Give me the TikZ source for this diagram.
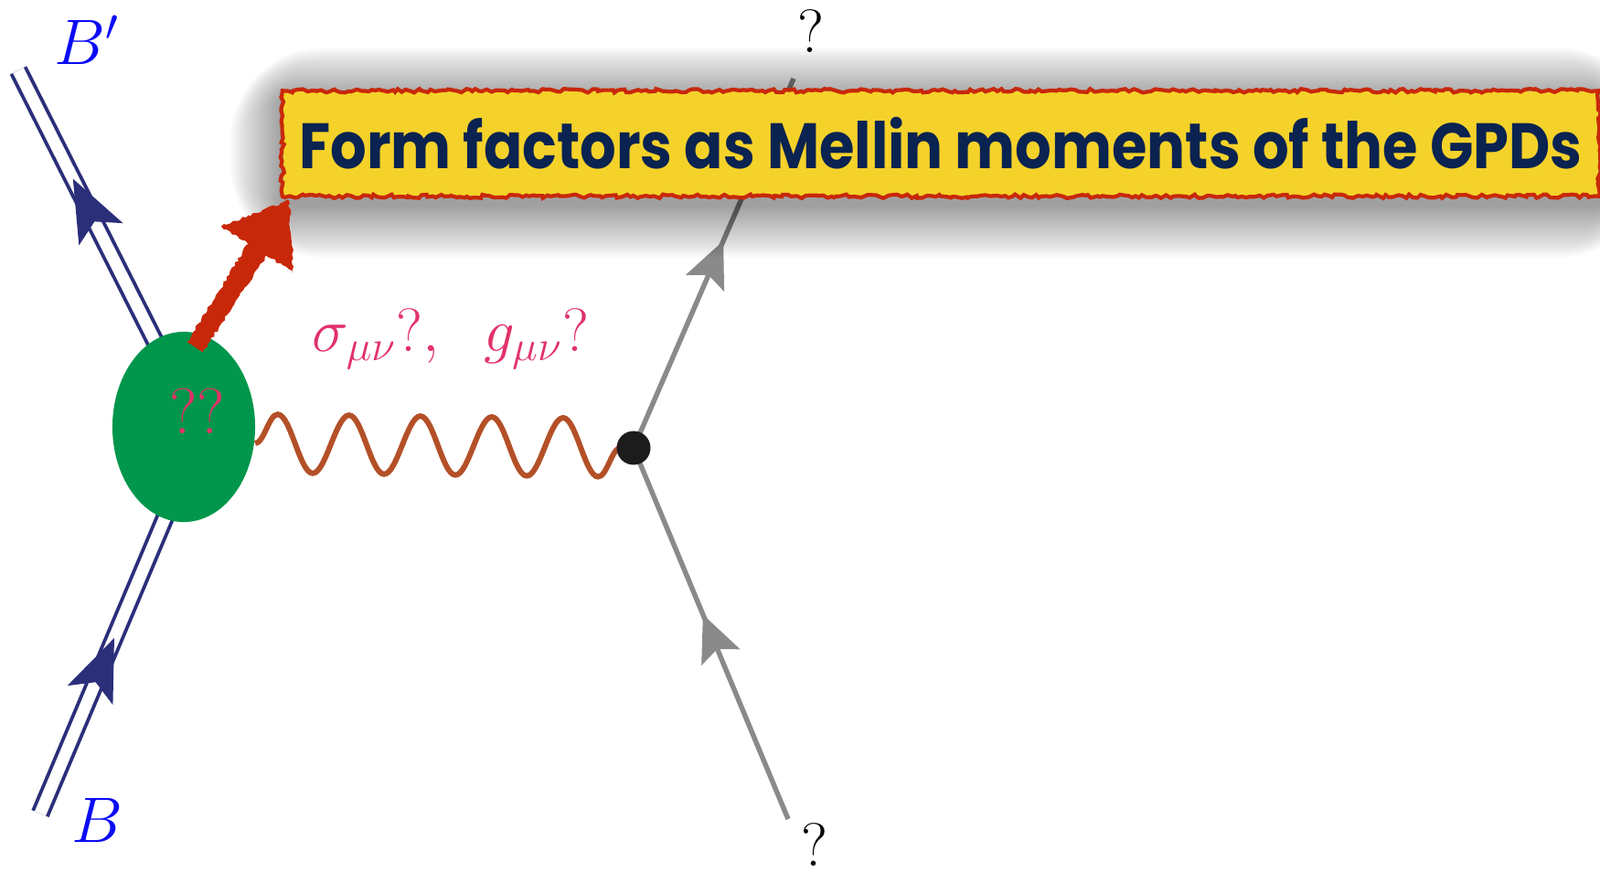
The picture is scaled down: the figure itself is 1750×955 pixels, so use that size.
\RequirePackage{fix-cm}
\documentclass[tikz,border=0pt]{standalone}
\usepackage{fontspec}
\newfontfamily\boxfont{Poppins}
\usetikzlibrary{arrows.meta,decorations.pathmorphing,decorations.markings,shapes.geometric,calc}
\definecolor{navycol}{HTML}{2B2F7A}
\definecolor{labelblue}{HTML}{0A0AF5}
\definecolor{blobgreen}{HTML}{00964B}
\definecolor{pinklab}{HTML}{E13269}
\definecolor{photoncol}{HTML}{B45028}
\definecolor{fgray}{HTML}{8A8A8A}
\definecolor{dotcol}{HTML}{1C1C1C}
\definecolor{redc}{HTML}{C8280A}
\definecolor{boxyellow}{HTML}{F5D22A}
\definecolor{textnavy}{HTML}{0A2350}
\tikzset{
  navyline/.style={draw=navycol, line width=1.1pt, double=white, double distance=3.7pt},
  navyhead/.style={color=navycol, decorate, decoration={markings, mark=at position #1 with {\arrow{Stealth[length=19.3pt,width=15.3pt,inset=4.4pt,color=navycol]}}}},
  grayline/.style={draw=fgray, line width=1.55pt},
  grayhead/.style={color=fgray, decorate, decoration={markings, mark=at position #1 with {\arrow{Stealth[length=14.4pt,width=13pt,inset=2.8pt,color=fgray]}}}},
  photon/.style={draw=photoncol, line width=1.7pt, decorate, decoration={snake, amplitude=0.32cm, segment length=0.78cm}},
  vertexdot/.style={circle, fill=dotcol, minimum size=0.37cm, inner sep=0},
  blobshape/.style={ellipse, fill=blobgreen, minimum width=1.56cm, minimum height=2.08cm, inner sep=0},
  biglabel/.style={font=\fontsize{20}{24}\selectfont, inner sep=0},
  midlabel/.style={font=\fontsize{19}{23}\selectfont, inner sep=0},
  roughred/.style={decorate, decoration={random steps, segment length=1.2pt, amplitude=0.6pt}},
  titlebox/.style={fill=boxyellow, inner sep=0, minimum width=14.38cm, minimum height=1.14cm, text=textnavy},
}
\begin{document}
\begin{tikzpicture}[x=0.01cm,y=-0.01cm]
\useasboundingbox (0,0) rectangle (1750,955);
% coordinates
\coordinate (bpTop) at (20,77);
\coordinate (bpIn) at (193,420);
\coordinate (bBot) at (44,890);
\coordinate (bIn) at (200,520);
\coordinate (vc) at (693,490);
\coordinate (qTop) at (868,86);
\coordinate (qBot) at (862,896);
\coordinate (phS) at (279,485);
% baryon double lines
\draw[navyline] (bpIn) -- (bpTop);
\path[navyhead=0.655] (bpIn) -- (bpTop);
\draw[navyline] (bBot) -- (bIn);
\path[navyhead=0.519] (bBot) -- (bIn);
% gray fermion lines
\draw[grayline] (vc) -- (qTop);
\path[grayhead=0.561] (vc) -- (qTop);
\draw[grayline] (qBot) -- (vc);
\path[grayhead=0.551] (qBot) -- (vc);
% photon
\draw[photon] (phS) -- (vc);
\node[vertexdot] (v) at (vc) {};
% blob
\node[blobshape] (blob) at (201,467) {};
\node[biglabel, text=pinklab] (qq) at (216,450) {$??$};
% labels
\node[biglabel, text=labelblue] (Bp) at (95,44) {$B'$};
\node[biglabel, text=labelblue] (B) at (106,897) {$B$};
\node[midlabel, text=pinklab] (coup) at (493,371) {$\sigma_{\mu\nu}?,\;\;g_{\mu\nu}?$};
\node[midlabel] (qt) at (887,34) {$?$};
\node[midlabel] (qb) at (891,924) {$?$};
% title box with soft shadow
\coordinate (boxNW) at (310,100);
\coordinate (boxSE) at (1748,214);
\foreach \e in {2,4,...,58}
  \fill[black, opacity=0.014, rounded corners={\e*0.5pt}] ([shift={(-\e,{10-\e})}]boxNW) rectangle ([shift={(\e,{10+\e})}]boxSE);
\node[titlebox] (title) at ($(boxNW)!0.5!(boxSE)$) {\resizebox{399pt}{16pt}{\boxfont\bfseries Form factors as Mellin moments of the GPDs}};
\draw[redc, line width=1.2pt, roughred] (title.north west) rectangle (title.south east);
% red hand-drawn arrow
\coordinate (arS) at (213,380);
\begin{scope}[shift={(arS)}, rotate=57.4]
\fill[redc, decorate, decoration={random steps, segment length=1pt, amplitude=0.45pt}]
  (0,-10) -- (127,-12) -- (127,-47) -- (191,0) -- (127,47) -- (127,12) -- (0,10) -- cycle;
\end{scope}
\end{tikzpicture}
\end{document}
